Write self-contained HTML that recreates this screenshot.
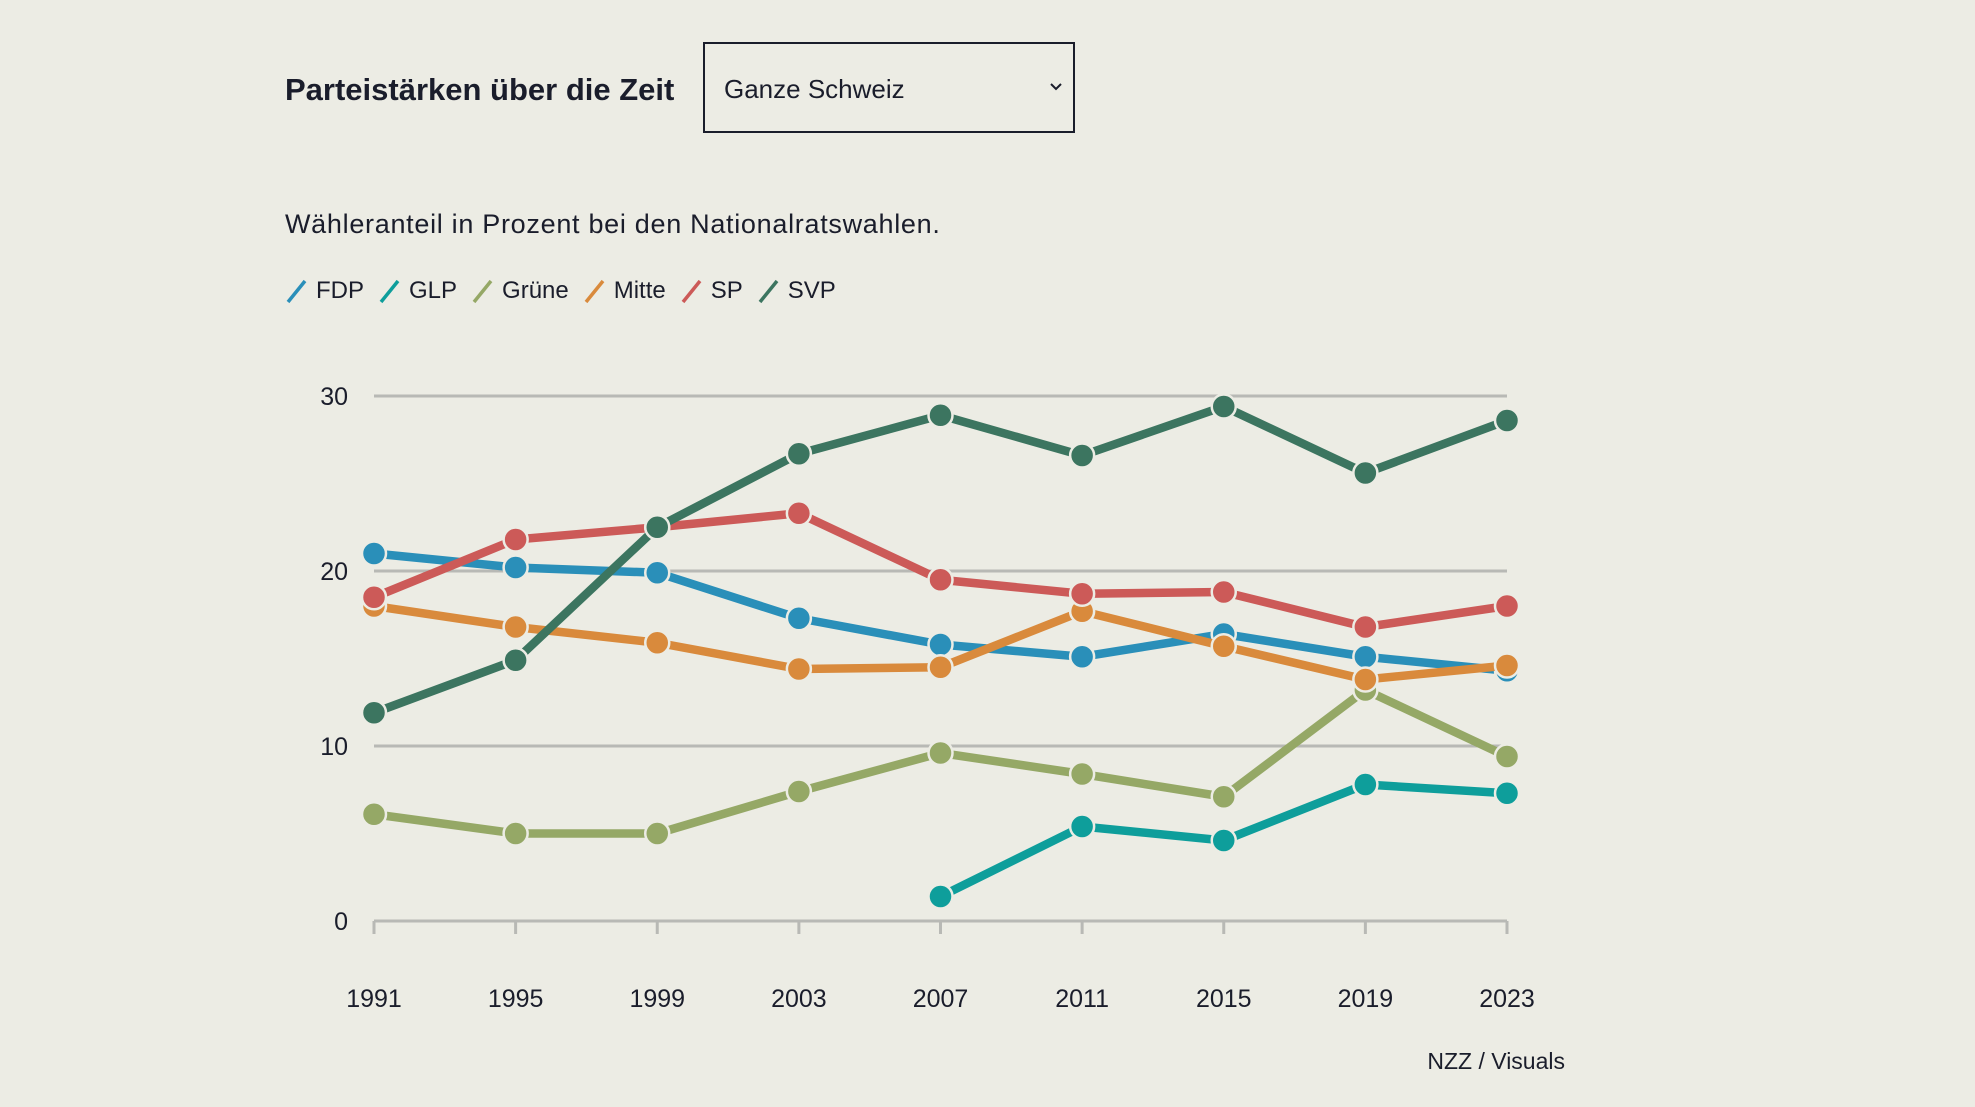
<!DOCTYPE html>
<html><head><meta charset="utf-8"><style>
html,body{margin:0;padding:0;background:#ecece4;}
body{width:1975px;height:1107px;position:relative;overflow:hidden;font-family:"Liberation Sans",sans-serif;color:#1a1d2b;}
.t{position:absolute;white-space:nowrap;}
</style></head><body>
<div class="t" style="left:285px;top:72px;font-size:31px;font-weight:bold;">Parteistärken über die Zeit</div>
<div style="position:absolute;left:703px;top:42px;width:372px;height:91px;border:2px solid #1a1d2b;box-sizing:border-box;">
  <div class="t" style="left:19px;top:30px;font-size:26px;">Ganze Schweiz</div>
  <svg style="position:absolute;left:344px;top:38px" width="14" height="10"><path d="M2 2 L7 7 L12 2" fill="none" stroke="#1a1d2b" stroke-width="2"/></svg>
</div>
<div class="t" style="left:285px;top:209px;font-size:27px;letter-spacing:0.7px;">Wähleranteil in Prozent bei den Nationalratswahlen.</div>
<div id="legend" style="position:absolute;left:285px;top:276px;height:30px;display:flex;align-items:center;font-size:24px;"></div>
<svg id="chart" width="1975" height="1107" style="position:absolute;left:0;top:0"></svg>
<div class="t" style="right:410px;top:1048px;font-size:23px;">NZZ / Visuals</div>
<script>
const years = [1991,1995,1999,2003,2007,2011,2015,2019,2023];
const yTicks = [0,10,20,30];
const parties = ["FDP","GLP","Grüne","Mitte","SP","SVP"];
const colors = ["#2a8fb9","#0e9e9b","#95a866","#d98a3c","#cc5a58","#3c7560"];
const fdp = [21.0,20.2,19.9,17.3,15.8,15.1,16.4,15.1,14.3];
const glp = [null,null,null,null,1.4,5.4,4.6,7.8,7.3];
const gruene = [6.1,5.0,5.0,7.4,9.6,8.4,7.1,13.2,9.4];
const mitte = [18.0,16.8,15.9,14.4,14.5,17.7,15.7,13.8,14.6];
const sp = [18.5,21.8,22.5,23.3,19.5,18.7,18.8,16.8,18.0];
const svp = [11.9,14.9,22.5,26.7,28.9,26.6,29.4,25.6,28.6];
const series = [fdp,glp,gruene,mitte,sp,svp];

const NS="http://www.w3.org/2000/svg";
const svg=document.getElementById('chart');
const x0=374,x1=1507,y0=921,y30=396;
const xs=i=>x0+(x1-x0)*i/(years.length-1);
const ys=v=>y0-(y0-y30)*v/30;
function mk(tag,attrs){const e=document.createElementNS(NS,tag);for(const k in attrs)e.setAttribute(k,attrs[k]);svg.appendChild(e);return e;}

yTicks.forEach(v=>{
  const l=mk('line',{x1:x0,x2:x1,y1:ys(v),y2:ys(v),stroke:'#b8b9b5','stroke-width':3});
  
  
  const t=mk('text',{x:348,y:ys(v)+9,'text-anchor':'end','font-size':25,fill:'#1a1d2b','font-family':'Liberation Sans, sans-serif'});
  t.textContent=v;
  
  
});
years.forEach((yr,i)=>{
  const tk=mk('line',{x1:xs(i),x2:xs(i),y1:y0,y2:y0+13,stroke:'#b8b9b5','stroke-width':3});
  
  
  const t=mk('text',{x:xs(i),y:1007,'text-anchor':'middle','font-size':25,fill:'#1a1d2b','font-family':'Liberation Sans, sans-serif'});
  t.textContent=yr;
  
  
});
series.forEach((s,k)=>{
  const pts=[];s.forEach((v,i)=>{if(v!==null)pts.push(xs(i)+','+ys(v));});
  const pl=mk('polyline',{points:pts.join(' '),fill:'none',stroke:colors[k],'stroke-width':8.5,'stroke-linejoin':'round'});
  
  
  s.forEach((v,i)=>{if(v===null)return;
    const c=mk('circle',{cx:xs(i),cy:ys(v),r:12,fill:colors[k],stroke:'#ecece4','stroke-width':2.5});
    
    
  });
});
const lg=document.getElementById('legend');
parties.forEach((p,k)=>{
  const d=document.createElement('span');
  
  
  d.style.cssText='display:inline-flex;align-items:center;margin-right:14px;';
  d.innerHTML='<svg width="24" height="26" style="margin-right:7px"><line x1="3" y1="24" x2="20" y2="3" stroke="'+colors[k]+'" stroke-width="3.5"/></svg>'+p;
  lg.appendChild(d);
});
</script>
</body></html>
